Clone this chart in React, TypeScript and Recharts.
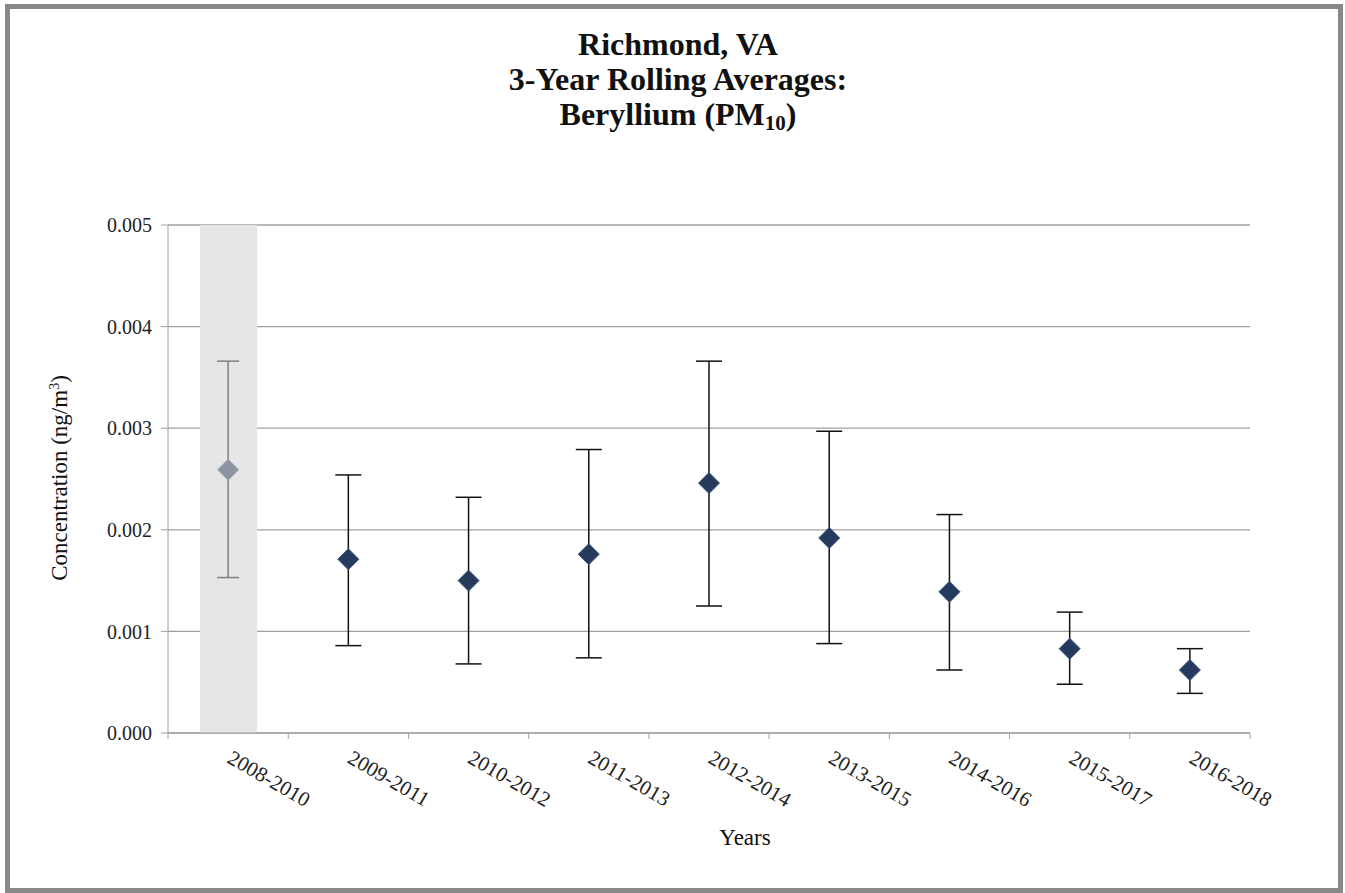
import { ComposedChart, Bar, Line, XAxis, YAxis, CartesianGrid, ErrorBar } from 'recharts'

const periods = [
  '2008-2010',
  '2009-2011',
  '2010-2012',
  '2011-2013',
  '2012-2014',
  '2013-2015',
  '2014-2016',
  '2015-2017',
  '2016-2018',
]
const means = [0.00259, 0.00171, 0.0015, 0.00176, 0.00246, 0.00192, 0.00139, 0.00083, 0.00062]
const upperBounds = [0.00366, 0.00254, 0.00232, 0.00279, 0.00366, 0.00297, 0.00215, 0.00119, 0.00083]
const lowerBounds = [0.00153, 0.00086, 0.00068, 0.00074, 0.00125, 0.00088, 0.00062, 0.00048, 0.00039]
const shadedPeriods = ['2008-2010']
const yTicks = [0, 0.001, 0.002, 0.003, 0.004, 0.005]
const yMax = 0.005
// category boundaries, in units of category index
const edgeTicks = [-0.5, 0.5, 1.5, 2.5, 3.5, 4.5, 5.5, 6.5, 7.5, 8.5]

const rows = periods.map((period, i) => {
  const err = [means[i] - lowerBounds[i], upperBounds[i] - means[i]]
  const shaded = shadedPeriods.includes(period)
  return {
    period,
    idx: i,
    mean: means[i],
    shaded,
    shade: shaded ? yMax : null,
    errShaded: shaded ? err : null,
    errOther: shaded ? null : err,
  }
})

const serif = '"Liberation Serif", "Times New Roman", serif'

function Diamond(props: any) {
  const { cx, cy, payload, index } = props
  if (cx == null || cy == null) return <g key={index} />
  const r = 10.5
  const pts = `${cx},${cy - r} ${cx + r},${cy} ${cx},${cy + r} ${cx - r},${cy}`
  return (
    <polygon
      key={index}
      points={pts}
      fill={payload.shaded ? '#8c949f' : '#253a5c'}
      stroke={payload.shaded ? '#a3aab3' : '#3a557e'}
      strokeWidth={1}
    />
  )
}

function SlantTick(props: any) {
  const { x, y, payload } = props
  return (
    <text
      x={x - 2}
      y={y + 28}
      transform={`rotate(30, ${x - 2}, ${y + 28})`}
      textAnchor="start"
      fill="#222"
      fontSize={21}
      fontFamily={serif}
    >
      {payload.value}
    </text>
  )
}

function NoLabel() {
  return <g />
}

export default function App() {
  return (
    <div style={{ position: 'absolute', left: 0, top: 0, width: 1345, height: 893, background: '#fff', fontFamily: serif }}>
      <div
        style={{
          position: 'absolute',
          left: 5,
          top: 4,
          width: 1338,
          height: 889,
          boxSizing: 'border-box',
          border: '5px solid #888',
        }}
      />
      <div
        style={{
          position: 'absolute',
          left: 428,
          top: 27,
          width: 500,
          textAlign: 'center',
          fontWeight: 'bold',
          fontSize: 32,
          lineHeight: '35px',
          color: '#111',
        }}
      >
        <div>Richmond, VA</div>
        <div>3-Year Rolling Averages:</div>
        <div>
          Beryllium (PM<sub style={{ fontSize: 21, verticalAlign: '-5px', lineHeight: 0 }}>10</sub>)
        </div>
      </div>
      <div
        style={{
          position: 'absolute',
          left: 60,
          top: 478,
          transform: 'translate(-50%, -50%) rotate(-90deg)',
          whiteSpace: 'nowrap',
          fontSize: 23,
          color: '#111',
        }}
      >
        Concentration (ng/m<sup style={{ fontSize: 14, verticalAlign: '8px', lineHeight: 0 }}>3</sup>)
      </div>
      <div
        style={{
          position: 'absolute',
          left: 745,
          top: 838,
          transform: 'translate(-50%, -50%)',
          fontSize: 23,
          color: '#111',
        }}
      >
        Years
      </div>
      <div style={{ position: 'absolute', left: 0, top: 0 }}>
        <ComposedChart
          width={1345}
          height={893}
          data={rows}
          margin={{ top: 225, right: 95, bottom: 99, left: 88 }}
        >
          <CartesianGrid vertical={false} xAxisId={1} stroke="#a0a0a0" strokeWidth={1.3} />
          <XAxis
            xAxisId={0}
            dataKey="idx"
            type="number"
            domain={[-0.5, 8.5]}
            ticks={edgeTicks}
            tick={<NoLabel />}
            tickSize={6}
            height={1}
            stroke="#a0a0a0"
            allowDataOverflow
          />
          <XAxis
            xAxisId={1}
            dataKey="period"
            interval={0}
            axisLine={false}
            tickLine={false}
            tickSize={0}
            tickMargin={0}
            height={60}
            tick={<SlantTick />}
          />
          <YAxis
            type="number"
            domain={[0, yMax]}
            ticks={yTicks}
            tickFormatter={(v: number) => v.toFixed(3)}
            width={80}
            tickSize={7}
            tickMargin={9}
            stroke="#a0a0a0"
            tick={{ fill: '#222', fontSize: 20, fontFamily: serif }}
          />
          <Bar xAxisId={1} dataKey="shade" barSize={57} fill="#e6e6e6" isAnimationActive={false} />
          <Line
            xAxisId={1}
            dataKey="mean"
            stroke="none"
            dot={Diamond}
            activeDot={false}
            isAnimationActive={false}
          >
            <ErrorBar dataKey="errShaded" direction="y" width={11} stroke="#808080" strokeWidth={1.5} />
            <ErrorBar dataKey="errOther" direction="y" width={13} stroke="#111" strokeWidth={1.5} />
          </Line>
        </ComposedChart>
      </div>
    </div>
  )
}
